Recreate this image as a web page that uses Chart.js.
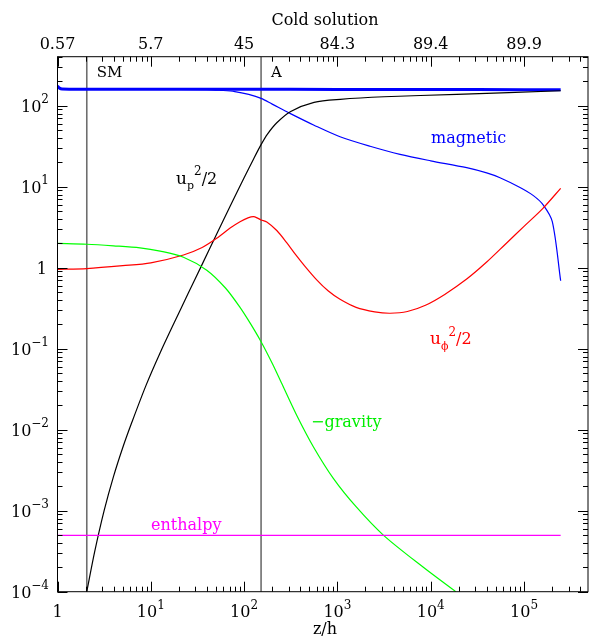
<!DOCTYPE html>
<html>
<head>
<meta charset="utf-8">
<script src="https://cdn.jsdelivr.net/npm/chart.js@4.4.1/dist/chart.umd.min.js"></script>
<style>
  html, body { margin: 0; padding: 0; background: #fff; }
  #wrap { width: 594px; height: 639px; position: relative; }
</style>
</head>
<body>
<div id="wrap"><canvas id="chart" width="594" height="639"></canvas></div>
<script>
// --- data ---
const xMin = 1, xMax = 4.85e5;
const yMin = 1e-4, yMax = 403;

const bottomTicks = [1, 10, 100, 1e3, 1e4, 1e5];
const bottomExp = ['', '1', '2', '3', '4', '5'];
const topLabels = ['0.57', '5.7', '45', '84.3', '89.4', '89.9'];
const leftTicks = [1e-4, 1e-3, 1e-2, 1e-1, 1, 10, 100];
const leftExp = ['-4', '-3', '-2', '-1', '', '1', '2'];

const markerX = [2.06, 152];
const markerNames = ['SM', 'A'];

const zTotal = [1, 1.05, 1.12, 2, 10, 100, 1000, 1e4, 1e5, 2.47e5];
const total = [175, 165, 161, 160, 160, 160, 159, 159, 158, 158];

const zMag = [1, 1.047, 1.122, 10, 39.8, 56.2, 79.4, 112, 152, 200, 310, 562, 1067, 2239, 4690, 10000, 24300, 39800, 55300, 90600, 126000, 161000, 201000, 247000];
const magnetic = [175, 164.8, 160.7, 160, 158.5, 154.9, 149.6, 138, 123.3, 104.7, 80.5, 57.5, 41.4, 31.6, 25.1, 20.9, 17.2, 14.8, 12.9, 9.77, 7.76, 5.94, 3.70, 0.69];

const zUp = [2.06, 2.51, 3.16, 3.98, 5.01, 6.31, 8.91, 12.6, 17.8, 25.1, 35.5, 50.1, 70.8, 100, 126, 152, 178, 224, 316, 562, 1072, 3162, 19050, 247000];
const upKin = [1e-4, 3.16e-4, 1e-3, 2.63e-3, 6.03e-3, 0.0126, 0.0355, 0.0891, 0.209, 0.479, 1.10, 2.51, 5.75, 12.9, 21.9, 33.1, 44.7, 61.7, 85.1, 110, 120, 129, 138, 153];

const zPhi = [1, 2.06, 5.01, 10, 22.4, 35.5, 50.8, 70.8, 90.4, 110, 126, 141, 152, 175, 224, 286, 355, 447, 600, 794, 1067, 1585, 2512, 3664, 5623, 8913, 14130, 24300, 39800, 63100, 100000, 158500, 247000];
const uphiKin = [0.955, 0.977, 1.059, 1.148, 1.436, 1.778, 2.31, 3.09, 3.70, 4.12, 4.27, 4.07, 3.89, 3.67, 2.88, 2.04, 1.46, 1.047, 0.708, 0.519, 0.407, 0.324, 0.285, 0.274, 0.288, 0.347, 0.468, 0.724, 1.175, 1.95, 3.24, 5.37, 9.55];

const zGrav = [1, 2.06, 3.98, 7.66, 12.6, 22.4, 39.8, 63.1, 90.4, 117, 152, 200, 251, 366, 552, 904, 1585, 3105, 8337, 18540];
const gravity = [2.0, 1.95, 1.862, 1.758, 1.603, 1.349, 0.933, 0.562, 0.324, 0.204, 0.122, 0.0661, 0.0380, 0.0151, 6.17e-3, 2.51e-3, 1.12e-3, 5.0e-4, 2.0e-4, 1.0e-4];

const zEnth = [1, 247000];
const enthalpy = [4.95e-4, 4.95e-4];

function pts(xs, ys) {
    return xs.map((x, i) => ({ x: x, y: ys[i] }));
}

function curve(label, xs, ys, color, width) {
    return {
        label: label,
        data: pts(xs, ys),
        borderColor: color,
        borderWidth: width || 1.2,
        pointRadius: 0,
        showLine: true,
        tension: 0.3,
        fill: false
    };
}

const FONT = '"DejaVu Serif", serif';

// text with optional sub/superscripts, pieces = [[text, dy, size], ...]
function drawPieces(ctx, pieces, x, y, color, align) {
    let w = 0;
    pieces.forEach(p => {
        ctx.font = p[2] + 'px ' + FONT;
        w += ctx.measureText(p[0]).width;
    });
    let cx = x;
    if (align === 'center') cx = x - w / 2;
    if (align === 'right') cx = x - w;
    ctx.fillStyle = color;
    ctx.textAlign = 'left';
    ctx.textBaseline = 'alphabetic';
    pieces.forEach(p => {
        ctx.font = p[2] + 'px ' + FONT;
        ctx.fillText(p[0], cx, y + p[1]);
        cx += ctx.measureText(p[0]).width;
    });
}

const framePlugin = {
    id: 'frame',
    afterDraw(chart) {
        const ctx = chart.ctx;
        const a = chart.chartArea;
        const xs = chart.scales.x, ys = chart.scales.y;
        ctx.save();
        ctx.strokeStyle = '#000';
        ctx.lineWidth = 1;
        ctx.strokeRect(a.left, a.top, a.right - a.left, a.bottom - a.top);

        // ticks pointing inward on all four sides
        ctx.beginPath();
        for (let d = 0; d <= 5; d++) {
            for (let m = 1; m <= 9; m++) {
                const v = Math.pow(10, d) * m;
                if (v > xMax) break;
                const px = Math.round(xs.getPixelForValue(v)) + 0.5;
                const len = m === 1 ? 10 : 5;
                ctx.moveTo(px, a.bottom); ctx.lineTo(px, a.bottom - len);
                ctx.moveTo(px, a.top); ctx.lineTo(px, a.top + len);
            }
        }
        for (let d = -4; d <= 2; d++) {
            for (let m = 1; m <= 9; m++) {
                const v = Math.pow(10, d) * m;
                if (v > yMax) break;
                const py = Math.round(ys.getPixelForValue(v)) + 0.5;
                const len = m === 1 ? 10 : 5;
                ctx.moveTo(a.left, py); ctx.lineTo(a.left + len, py);
                ctx.moveTo(a.right, py); ctx.lineTo(a.right - len, py);
            }
        }
        ctx.stroke();

        // bottom labels
        bottomTicks.forEach((v, i) => {
            const px = xs.getPixelForValue(v);
            if (bottomExp[i] === '') {
                drawPieces(ctx, [['1', 0, 16]], px, 617, '#000', 'center');
            } else {
                drawPieces(ctx, [['10', 0, 16], [bottomExp[i], -8, 12]], px, 617, '#000', 'center');
            }
        });
        // top labels
        bottomTicks.forEach((v, i) => {
            const px = xs.getPixelForValue(v);
            drawPieces(ctx, [[topLabels[i], 0, 16]], px, 49, '#000', 'center');
        });
        // left labels
        leftTicks.forEach((v, i) => {
            const py = ys.getPixelForValue(v);
            if (leftExp[i] === '') {
                drawPieces(ctx, [['1', 0, 16]], 47, py + 6, '#000', 'right');
            } else {
                drawPieces(ctx, [['10', 0, 16], [leftExp[i].replace('-', '\u2212'), -9, 12]], 49, py + 6, '#000', 'right');
            }
        });

        drawPieces(ctx, [['Cold solution', 0, 16]], 325, 25, '#000', 'center');
        drawPieces(ctx, [['z/h', 0, 16]], 325, 634, '#000', 'center');

        // marker names
        markerX.forEach((v, i) => {
            const px = xs.getPixelForValue(v);
            drawPieces(ctx, [[markerNames[i], 0, 15]], px + 10, 77, '#000', 'left');
        });

        // curve labels
        drawPieces(ctx, [['magnetic', 0, 16]], 431, 143, '#0000ff', 'left');
        drawPieces(ctx, [['enthalpy', 0, 16]], 151, 530, '#ff00ff', 'left');
        drawPieces(ctx, [['\u2212gravity', 0, 16]], 311, 427, '#00ee00', 'left');
        drawPieces(ctx, [['u', 0, 17], ['p', 5, 11], ['2', -9, 12], ['/2', 0, 16]], 176, 184, '#000', 'left');
        drawPieces(ctx, [['u', 0, 17], ['\u03d5', 6, 11], ['2', -8, 12], ['/2', 0, 16]], 430, 344, '#ff0000', 'left');
        ctx.restore();
    }
};

const datasets = [
    curve('enthalpy', zEnth, enthalpy, '#ff00ff'),
    curve('gravity', zGrav, gravity, '#00ff00'),
    curve('uphi', zPhi, uphiKin, '#ff0000'),
    curve('up', zUp, upKin, '#000000'),
    curve('magnetic', zMag, magnetic, '#0000ff'),
    curve('total', zTotal, total, '#0000ff', 3)
];
markerX.forEach((v, i) => {
    datasets.push({
        label: markerNames[i],
        data: pts([v, v], [yMin, yMax]),
        borderColor: '#6e6e6e',
        borderWidth: 1.6,
        pointRadius: 0,
        showLine: true
    });
});

new Chart(document.getElementById('chart'), {
    type: 'scatter',
    data: { datasets: datasets },
    options: {
        responsive: false,
        animation: false,
        layout: { padding: { left: 57.5, right: 6, top: 56.7, bottom: 47.3 } },
        plugins: { legend: { display: false }, tooltip: { enabled: false } },
        scales: {
            x: { type: 'logarithmic', min: xMin, max: xMax, display: false },
            y: { type: 'logarithmic', min: yMin, max: yMax, display: false }
        }
    },
    plugins: [framePlugin]
});
</script>
</body>
</html>
